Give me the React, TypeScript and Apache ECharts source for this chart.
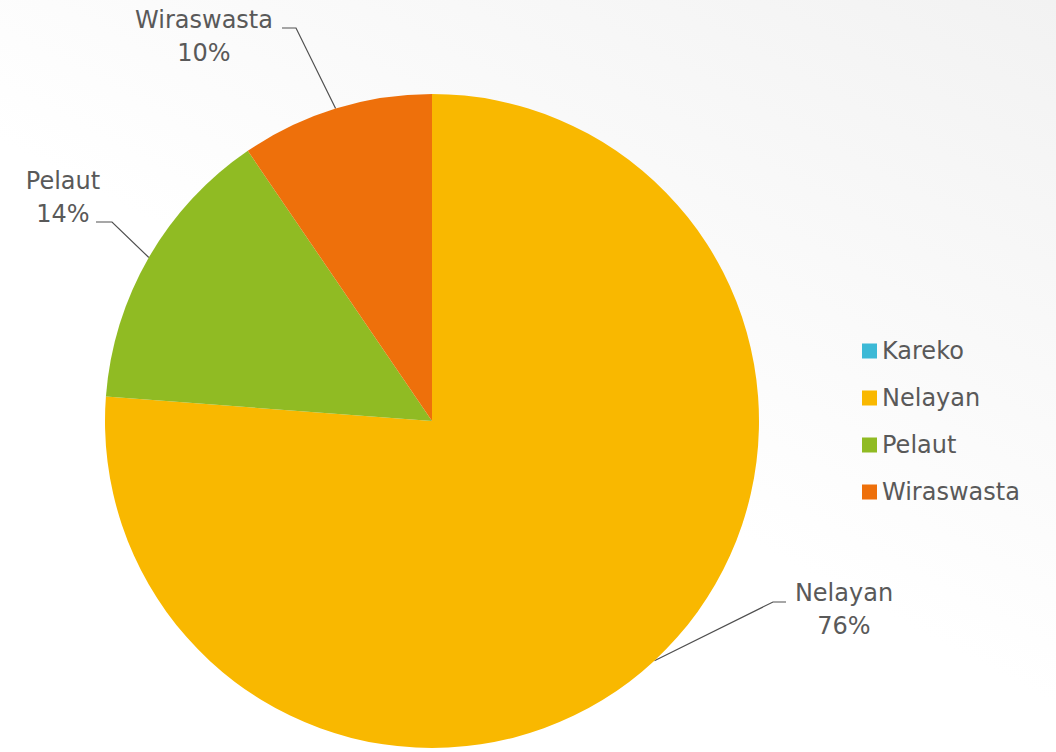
import React, { useEffect, useRef } from "react";
import * as echarts from "echarts";

const categories = ["Kareko", "Nelayan", "Pelaut", "Wiraswasta"];
const values = [0, 80, 15, 10];
const colors = ["#3CB9D6", "#F9B800", "#90BB23", "#EE700B"];

// label placement (layout only): label centre and leader-line elbow/end
const labelPlacement: Record<string, { cx: number; cy: number; elbow: number[]; end: number[] }> = {
  Nelayan: { cx: 844, cy: 609, elbow: [773, 602], end: [786, 602] },
  Pelaut: { cx: 63, cy: 197, elbow: [112, 222], end: [96, 222] },
  Wiraswasta: { cx: 204, cy: 36, elbow: [296, 28], end: [282, 28] },
};

const FONT = "'DejaVu Sans', sans-serif";
const TEXT = "#595959";

export default function App() {
  const ref = useRef<HTMLDivElement>(null);
  useEffect(() => {
    document.body.style.margin = "0";
    const chart = echarts.init(ref.current!, undefined, { renderer: "svg" });
    const data = categories.map((name, i) => {
      const item: any = { name, value: values[i], itemStyle: { color: colors[i] } };
      if (values[i] === 0) {
        item.label = { show: false };
        item.labelLine = { show: false };
      }
      return item;
    });
    chart.setOption({
      animation: false,
      backgroundColor: {
        type: "linear",
        x: 1,
        y: 0,
        x2: 0.55,
        y2: 0.6,
        colorStops: [
          { offset: 0, color: "#f2f2f2" },
          { offset: 1, color: "#ffffff" },
        ],
      },
      legend: {
        orient: "vertical",
        left: 862,
        top: 338,
        padding: 0,
        itemWidth: 15,
        itemHeight: 15,
        itemGap: 21,
        icon: "rect",
        data: categories,
        textStyle: { fontFamily: FONT, fontSize: 24, color: TEXT, lineHeight: 26 },
      },
      series: [
        {
          type: "pie",
          center: [432, 421],
          radius: [0, 327],
          startAngle: 90,
          clockwise: true,
          percentPrecision: 0,
          avoidLabelOverlap: false,
          itemStyle: { borderWidth: 0 },
          label: {
            show: true,
            position: "outside",
            formatter: "{t|{b}}\n{t|{d}%}",
            rich: {
              t: { fontFamily: FONT, fontSize: 24, color: TEXT, lineHeight: 33, align: "center" },
            },
          },
          labelLine: { show: true, lineStyle: { color: "#505050", width: 1.2 } },
          labelLayout: (params: any) => {
            const name = categories[params.dataIndex];
            const p = labelPlacement[name];
            if (!p || !params.labelLinePoints) return {};
            const start = params.labelLinePoints[0];
            return {
              x: p.cx,
              y: p.cy,
              align: "center",
              verticalAlign: "middle",
              labelLinePoints: [start, p.elbow, p.end],
            };
          },
          data,
        },
      ],
    });
    return () => chart.dispose();
  }, []);
  return <div ref={ref} style={{ width: 1056, height: 752 }} />;
}
